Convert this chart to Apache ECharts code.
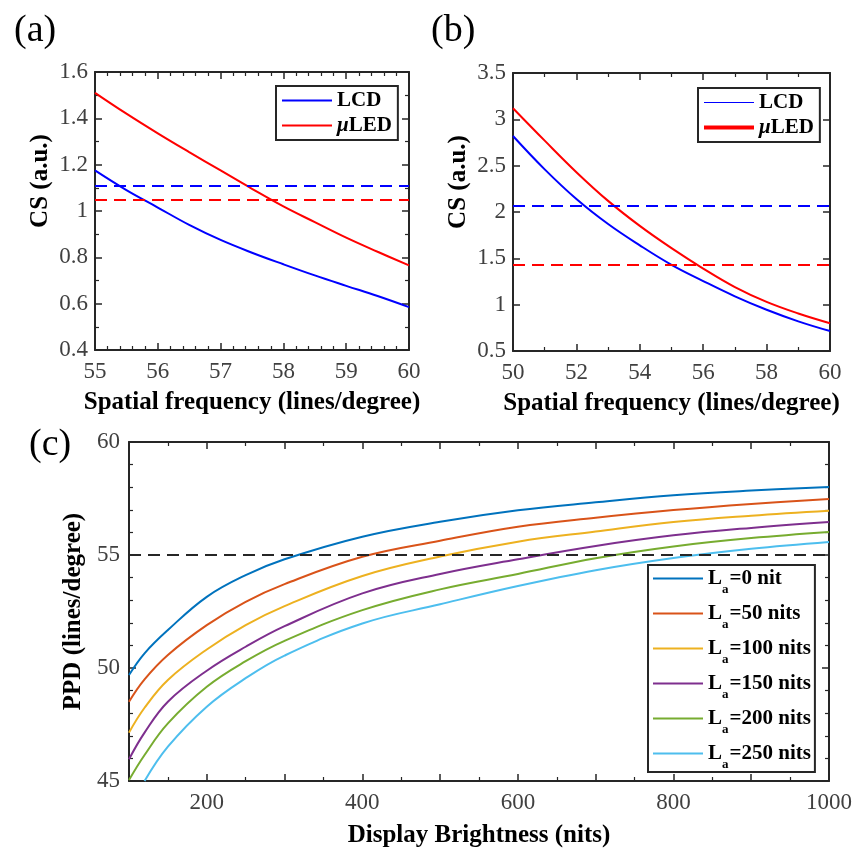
<!DOCTYPE html>
<html>
<head>
<meta charset="utf-8">
<script src="https://cdn.jsdelivr.net/npm/echarts@6/dist/echarts.min.js"></script>
<style>
  html, body { margin: 0; padding: 0; background: #fff; }
  #chart { width: 855px; height: 849px; }
</style>
</head>
<body>
<div id="chart"></div>
<script>
// panel (a): contrast sensitivity vs spatial frequency, 55-60 lines/degree
const A_FREQ = [55, 55.5, 56, 56.5, 57, 57.5, 58, 58.5, 59, 59.5, 60];
const A_LCD = [1.175, 1.09, 1.015, 0.94, 0.875, 0.82, 0.77, 0.722, 0.677, 0.633, 0.585];
const A_ULED = [1.51, 1.42, 1.335, 1.254, 1.175, 1.096, 1.02, 0.952, 0.885, 0.824, 0.765];
const A_LCD_LIMIT = 1.115;
const A_ULED_LIMIT = 1.046;

// panel (b): 50-60 lines/degree
const B_FREQ = [50, 51, 52, 53, 54, 55, 56, 57, 58, 59, 60];
const B_LCD = [2.82, 2.46, 2.14, 1.87, 1.64, 1.43, 1.255, 1.09, 0.945, 0.82, 0.715];
const B_ULED = [3.12, 2.77, 2.43, 2.12, 1.85, 1.61, 1.39, 1.19, 1.03, 0.905, 0.80];
const B_LCD_LIMIT = 2.07;
const B_ULED_LIMIT = 1.43;

// panel (c): required PPD vs display brightness for several ambient levels
const BRIGHTNESS = [100, 120, 150, 200, 250, 300, 400, 500, 600, 700, 800, 900, 1000];
const AMBIENT_LABELS = ["0 nit", "50 nits", "100 nits", "150 nits", "200 nits", "250 nits"];
const PPD_CURVES = [
  [49.69, 50.65, 51.68, 53.15, 54.11, 54.81, 55.81, 56.47, 56.98, 57.33, 57.64, 57.85, 58.01],
  [48.51, 49.5, 50.58, 51.9, 52.93, 53.71, 54.92, 55.63, 56.25, 56.65, 56.99, 57.26, 57.48],
  [47.14, 48.24, 49.47, 50.82, 51.9, 52.74, 54.07, 54.93, 55.59, 56.04, 56.46, 56.74, 56.96],
  [45.96, 47.14, 48.51, 49.88, 50.94, 51.85, 53.3, 54.16, 54.81, 55.4, 55.87, 56.2, 56.46],
  [45.04, 46.15, 47.55, 49.17, 50.3, 51.2, 52.56, 53.48, 54.16, 54.86, 55.38, 55.75, 56.02],
  [null, 45.0, 46.52, 48.29, 49.55, 50.55, 51.97, 52.82, 53.63, 54.33, 54.87, 55.28, 55.58],
];
const PPD_LIMIT = 55;

const SERIF = "Liberation Serif";
const AXIS_COLOR = "#262626";
const TICK_TEXT = "#404040";
const C_COLORS = ["#0072BD", "#D95319", "#EDB120", "#7E2F8E", "#77AC30", "#4DBEEE"];

function pairs(xs, ys) {
  return xs.map((x, i) => [x, ys[i]]);
}

function frameAxes(gridIndex, spec) {
  const line = { show: true, onZero: false, lineStyle: { color: AXIS_COLOR, width: 2 } };
  const tick = { show: true, inside: true, length: 7, lineStyle: { color: AXIS_COLOR, width: 1.5 } };
  const minor = (n) => ({
    show: n > 0, splitNumber: n || 5, length: 4,
    lineStyle: { color: AXIS_COLOR, width: 1.2 },
  });
  const label = (margin, formatter) => ({
    margin, fontFamily: SERIF, fontSize: 23, color: TICK_TEXT, formatter,
  });
  const nameStyle = { fontFamily: SERIF, fontWeight: "bold", fontSize: 25, color: "#000" };
  const x = spec.x, y = spec.y;
  return {
    xAxis: [
      {
        type: "value", gridIndex, position: "bottom",
        min: x.min, max: x.max, interval: x.interval,
        name: x.name, nameLocation: "middle", nameGap: x.nameGap, nameTextStyle: nameStyle,
        axisLine: line, axisTick: tick, minorTick: minor(x.minor),
        axisLabel: label(x.margin, x.formatter), splitLine: { show: false },
      },
      {
        type: "value", gridIndex, position: "top",
        min: x.min, max: x.max, interval: x.interval,
        axisLine: line, axisTick: tick, minorTick: minor(x.minor),
        axisLabel: { show: false }, splitLine: { show: false },
      },
    ],
    yAxis: [
      {
        type: "value", gridIndex, position: "left",
        min: y.min, max: y.max, interval: y.interval,
        name: y.name, nameLocation: "middle", nameGap: y.nameGap,
        nameTextStyle: Object.assign({ padding: y.namePad || 0 }, nameStyle),
        axisLine: line, axisTick: tick, minorTick: minor(y.minor),
        axisLabel: label(y.margin), splitLine: { show: false },
      },
      {
        type: "value", gridIndex, position: "right",
        min: y.min, max: y.max, interval: y.interval,
        axisLine: line, axisTick: tick, minorTick: minor(y.minor),
        axisLabel: { show: false }, splitLine: { show: false },
      },
    ],
  };
}

const axesA = frameAxes(0, {
  x: { min: 55, max: 60, interval: 1, minor: 5, margin: 10, nameGap: 40,
       name: "Spatial frequency (lines/degree)" },
  y: { min: 0.4, max: 1.6, interval: 0.2, minor: 2, margin: 7, nameGap: 42,
       name: "CS (a.u.)", namePad: [0, 0, 0, 60] },
});
const axesB = frameAxes(1, {
  x: { min: 50, max: 60, interval: 2, minor: 2, margin: 10, nameGap: 40,
       name: "Spatial frequency (lines/degree)" },
  y: { min: 0.5, max: 3.5, interval: 0.5, minor: 0, margin: 7, nameGap: 42,
       name: "CS (a.u.)", namePad: [0, 0, 0, 60] },
});
const axesC = frameAxes(2, {
  x: { min: 100, max: 1000, interval: 100, minor: 2, margin: 10, nameGap: 42,
       name: "Display Brightness (nits)",
       formatter: (v) => (v % 200 === 0 ? String(v) : "") },
  y: { min: 45, max: 60, interval: 5, minor: 5, margin: 9, nameGap: 36,
       name: "PPD (lines/degree)" },
});

function curve(name, xIdx, yIdx, data, color, width, limit) {
  const s = {
    name, type: "line", xAxisIndex: xIdx, yAxisIndex: yIdx, data,
    smooth: 0.4, symbol: "none", clip: true,
    lineStyle: { color, width }, itemStyle: { color },
  };
  if (limit != null) {
    s.markLine = {
      silent: true, symbol: "none", label: { show: false }, animation: false,
      lineStyle: { color: limit.color || color, width: 2, type: [12, 7] },
      data: [{ yAxis: limit.value }],
    };
  }
  return s;
}

const series = [
  curve("LCD", 0, 0, pairs(A_FREQ, A_LCD), "#0000FF", 2, { value: A_LCD_LIMIT }),
  curve("μLED", 0, 0, pairs(A_FREQ, A_ULED), "#FF0000", 2, { value: A_ULED_LIMIT }),
  curve("LCD", 2, 2, pairs(B_FREQ, B_LCD), "#0000FF", 2, { value: B_LCD_LIMIT }),
  curve("μLED", 2, 2, pairs(B_FREQ, B_ULED), "#FF0000", 2, { value: B_ULED_LIMIT }),
];
PPD_CURVES.forEach((ys, i) => {
  const limit = i === 0 ? { value: PPD_LIMIT, color: "#262626" } : null;
  series.push(curve("La=" + AMBIENT_LABELS[i], 4, 4, pairs(BRIGHTNESS, ys), C_COLORS[i], 2, limit));
});

// a plain stroke as legend icon: the two corner specks keep the 50x14 box,
// so the bar in the middle keeps its own thickness
function strokeIcon(w) {
  const a = 7 - w / 2, b = 7 + w / 2;
  return "path://M0,0h0.01v0.01h-0.01Z M0," + a + "H50V" + b + "H0Z M49.99,13.99h0.01V14h-0.01Z";
}

const legendText = {
  fontFamily: SERIF, fontWeight: "bold", fontSize: 21, color: "#000",
  rich: {
    b: { fontFamily: SERIF, fontWeight: "bold", fontSize: 21, color: "#000" },
    mu: { fontFamily: SERIF, fontStyle: "italic", fontWeight: "bold", fontSize: 21, color: "#000" },
    sub: { fontFamily: SERIF, fontWeight: "bold", fontSize: 13, color: "#000", padding: [22, 1, 0, 0] },
  },
};

function legendLabel(name) {
  if (name === "μLED") return "{mu|μ}{b|LED}";
  if (name.startsWith("La=")) return "{b|L}{sub|a}{b|" + name.slice(2) + "}";
  return "{b|" + name + "}";
}

function boxLegend(left, top, items, gap, pad) {
  return {
    left, top, orient: "vertical", itemWidth: 50, itemHeight: 14, itemGap: gap,
    padding: pad, borderColor: "#262626", borderWidth: 2, backgroundColor: "#fff",
    selectedMode: false, data: items,
    textStyle: legendText, formatter: legendLabel,
  };
}

const option = {
  animation: false,
  backgroundColor: "#fff",
  grid: [
    { left: 95, right: 446, top: 72, bottom: 499 },
    { left: 513, right: 25, top: 73, bottom: 498 },
    { left: 129, right: 25, top: 442, bottom: 68 },
  ],
  xAxis: [...axesA.xAxis, ...axesB.xAxis, ...axesC.xAxis],
  yAxis: [...axesA.yAxis, ...axesB.yAxis, ...axesC.yAxis],
  legend: [
    boxLegend(276, 86, [
      { name: "LCD", icon: strokeIcon(2) },
      { name: "μLED", icon: strokeIcon(2) },
    ], 4, [4, 6, 4, 6]),
    boxLegend(698, 88, [
      { name: "LCD", icon: strokeIcon(1) },
      { name: "μLED", icon: strokeIcon(4) },
    ], 4, [4, 6, 4, 6]),
    boxLegend(648, 565, AMBIENT_LABELS.map((l) => ({ name: "La=" + l, icon: strokeIcon(2) })),
      7, [3, 4, 1, 5]),
  ],
  graphic: [
    { type: "text", left: 14, top: 12, style: { text: "(a)", fontFamily: SERIF, fontSize: 38, fill: "#000" } },
    { type: "text", left: 431, top: 12, style: { text: "(b)", fontFamily: SERIF, fontSize: 38, fill: "#000" } },
    { type: "text", left: 29, top: 426, style: { text: "(c)", fontFamily: SERIF, fontSize: 38, fill: "#000" } },
  ],
  series,
};

const chart = echarts.init(document.getElementById("chart"), null, { renderer: "canvas" });
chart.setOption(option);
</script>
</body>
</html>
